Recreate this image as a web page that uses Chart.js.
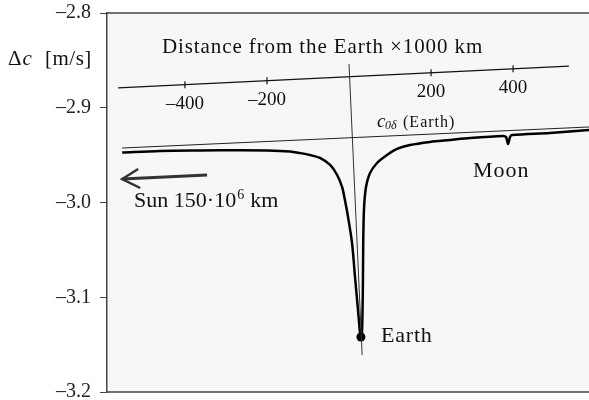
<!DOCTYPE html>
<html>
<head>
<meta charset="utf-8">
<script src="https://cdn.jsdelivr.net/npm/chart.js@4"></script>
<style>
  body { margin: 0; background: #fff; }
  #wrap { width: 589px; height: 400px; }
</style>
</head>
<body>
<div id="wrap"><canvas id="chart"></canvas></div>
<script>
// velocity shift curve, x in 1000 km along the Sun-Earth-Moon line
const curveX = [-553, -461, -363, -266, -200, -144, -120, -95, -71, -46, -29, -17, -10, -2.4, 7.3, 14.6, 21.9, 26.8, 29.3,
                31.5, 33, 34, 34.6, 35.6, 37.3, 41.4, 51.2, 68.3, 92.6, 117, 148.7, 197.5, 246.2, 295, 375.4, 382.7, 387.6, 392.5, 397.4, 490, 585];
const curveY = [-2.9472, -2.9456, -2.9451, -2.9449, -2.9451, -2.9462, -2.9478, -2.9499, -2.9530, -2.9604, -2.9710, -2.9836, -2.9974, -3.0153, -3.0427, -3.0786, -3.1135, -3.1377, -3.1430,
                -3.1377, -3.1135, -3.0786, -3.0427, -3.0185, -3.0005, -2.9836, -2.9689, -2.9583, -2.9499, -2.9435, -2.9393, -2.9361, -2.9340, -2.9319, -2.9298, -2.9309, -2.9383, -2.9309, -2.9288, -2.9266, -2.9235];

// tilted distance axis and its ticks
const distLineX = [-563, 536];
const distLineY = [-2.879, -2.856];
const distTicks = [-400, -200, 200, 400];
const distTickY = [-2.8756, -2.8714, -2.8630, -2.8588];
const distTickLabels = ['–400', '–200', '200', '400'];

// c0δ reference line and the Earth line
const baseLineX = [-553, 585];
const baseLineY = [-2.9425, -2.9203];
const earthLineX = [0, 32];
const earthLineY = [-2.8538, -3.161];
const earthX = [29];
const earthY = [-3.142];

// arrow towards the Sun
const sunShaftX = [-346, -553];
const sunShaftY = [-2.9710, -2.9752];
const sunHeadX = [-514, -553, -509];
const sunHeadY = [-2.9646, -2.9752, -2.9847];

const yMin = -3.2, yMax = -2.8, yStep = 0.1;

const FONT = "'Liberation Serif', serif";

function zip(xs, ys) {
  return xs.map((x, i) => ({ x: x, y: ys[i] }));
}

function lineSet(xs, ys, color, width) {
  return {
    data: zip(xs, ys), showLine: true, borderColor: color, borderWidth: width,
    pointRadius: 0, tension: 0, fill: false
  };
}

// plot background and frame lines
const frame = {
  id: 'frame',
  beforeDraw(chart) {
    const { ctx, chartArea: a } = chart;
    ctx.save();
    ctx.fillStyle = '#f7f7f7';
    ctx.fillRect(a.left, a.top, a.right - a.left, a.bottom - a.top);
    ctx.strokeStyle = '#444';
    ctx.lineWidth = 1.5;
    ctx.beginPath();
    ctx.moveTo(a.left, a.top);
    ctx.lineTo(a.right, a.top);
    ctx.moveTo(a.left, a.bottom);
    ctx.lineTo(a.right, a.bottom);
    ctx.stroke();
    ctx.restore();
  }
};

function text(ctx, str, x, y, size, opts) {
  opts = opts || {};
  ctx.font = (opts.italic ? 'italic ' : '') + size + 'px ' + FONT;
  ctx.textAlign = opts.align || 'left';
  ctx.textBaseline = opts.base || 'middle';
  ctx.letterSpacing = (opts.spacing || 0) + 'px';
  ctx.fillText(str, x, y);
  return ctx.measureText(str).width;
}

const labels = {
  id: 'labels',
  afterDatasetsDraw(chart) {
    const ctx = chart.ctx;
    const sx = chart.scales.x, sy = chart.scales.y;
    const px = v => sx.getPixelForValue(v);
    const py = v => sy.getPixelForValue(v);
    ctx.save();
    ctx.fillStyle = '#111';

    text(ctx, 'Distance from the Earth ×1000 km', px(-456), py(-2.8359), 21, { spacing: 0.9 });

    distTicks.forEach((t, i) => {
      text(ctx, distTickLabels[i], px(t), py(distTickY[i]) + 19, 19, { align: 'center' });
    });

    // c0δ (Earth)
    let x = px(68.3), b = py(-2.9203);
    text(ctx, 'c', x, b, 19, { italic: true, base: 'alphabetic' });
    text(ctx, '0δ', x + 8, b + 2, 12, { italic: true, base: 'alphabetic' });
    text(ctx, '(Earth)', x + 26, b, 16, { base: 'alphabetic', spacing: 1 });

    text(ctx, 'Moon', px(302), py(-2.9668), 22, { spacing: 1 });
    text(ctx, 'Earth', px(78), py(-3.1409), 22, { spacing: 0.8 });

    // Sun 150·10⁶ km
    x = px(-524); b = py(-2.9974) + 7;
    let w = text(ctx, 'Sun 150·10', x, b, 22, { base: 'alphabetic' });
    w += text(ctx, '6', x + w + 1, b - 8, 14, { base: 'alphabetic' });
    text(ctx, 'km', x + w + 7, b, 22, { base: 'alphabetic' });

    // axis title Δc [m/s]
    const ty = py(-2.8475) + 7;
    w = text(ctx, 'Δ', 8, ty, 21, { base: 'alphabetic' });
    text(ctx, 'c', 8 + w + 1, ty, 21, { italic: true, base: 'alphabetic' });
    text(ctx, '[m/s]', 45, ty, 21, { base: 'alphabetic', spacing: 0.5 });
    ctx.restore();
  }
};

new Chart(document.getElementById('chart'), {
  type: 'scatter',
  data: {
    datasets: [
      lineSet(distLineX, distLineY, '#111', 1.3),
      {
        data: zip(distTicks, distTickY), pointStyle: 'line', rotation: 90,
        pointRadius: 3.5, borderColor: '#111', borderWidth: 1.2
      },
      lineSet(baseLineX, baseLineY, '#222', 1),
      lineSet(earthLineX, earthLineY, '#333', 1),
      Object.assign(lineSet(curveX, curveY, '#000', 2.5), { tension: 0.3 }),
      {
        data: zip(earthX, earthY), pointRadius: 4.5, pointBackgroundColor: '#000',
        borderColor: '#000', borderWidth: 0
      },
      lineSet(sunShaftX, sunShaftY, '#333', 3),
      lineSet(sunHeadX, sunHeadY, '#333', 2.5)
    ]
  },
  options: {
    responsive: true,
    maintainAspectRatio: false,
    animation: false,
    layout: { autoPadding: false, padding: { top: 13, bottom: 8, left: 0, right: 0 } },
    plugins: { legend: { display: false }, tooltip: { enabled: false } },
    scales: {
      x: { type: 'linear', min: -590, max: 585, display: false },
      y: {
        min: yMin, max: yMax,
        afterFit(scale) {
          scale.width = 107;
          scale.paddingTop = 0;
          scale.paddingBottom = 0;
        },
        ticks: {
          stepSize: yStep, padding: 9, color: '#222',
          font: { family: FONT, size: 20 },
          callback: v => '–' + Math.abs(v).toFixed(1)
        },
        grid: { drawOnChartArea: false, drawTicks: true, tickLength: 7, color: '#444', lineWidth: 1 },
        border: { display: true, color: '#444', width: 1.5 }
      }
    }
  },
  plugins: [frame, labels]
});
</script>
</body>
</html>
